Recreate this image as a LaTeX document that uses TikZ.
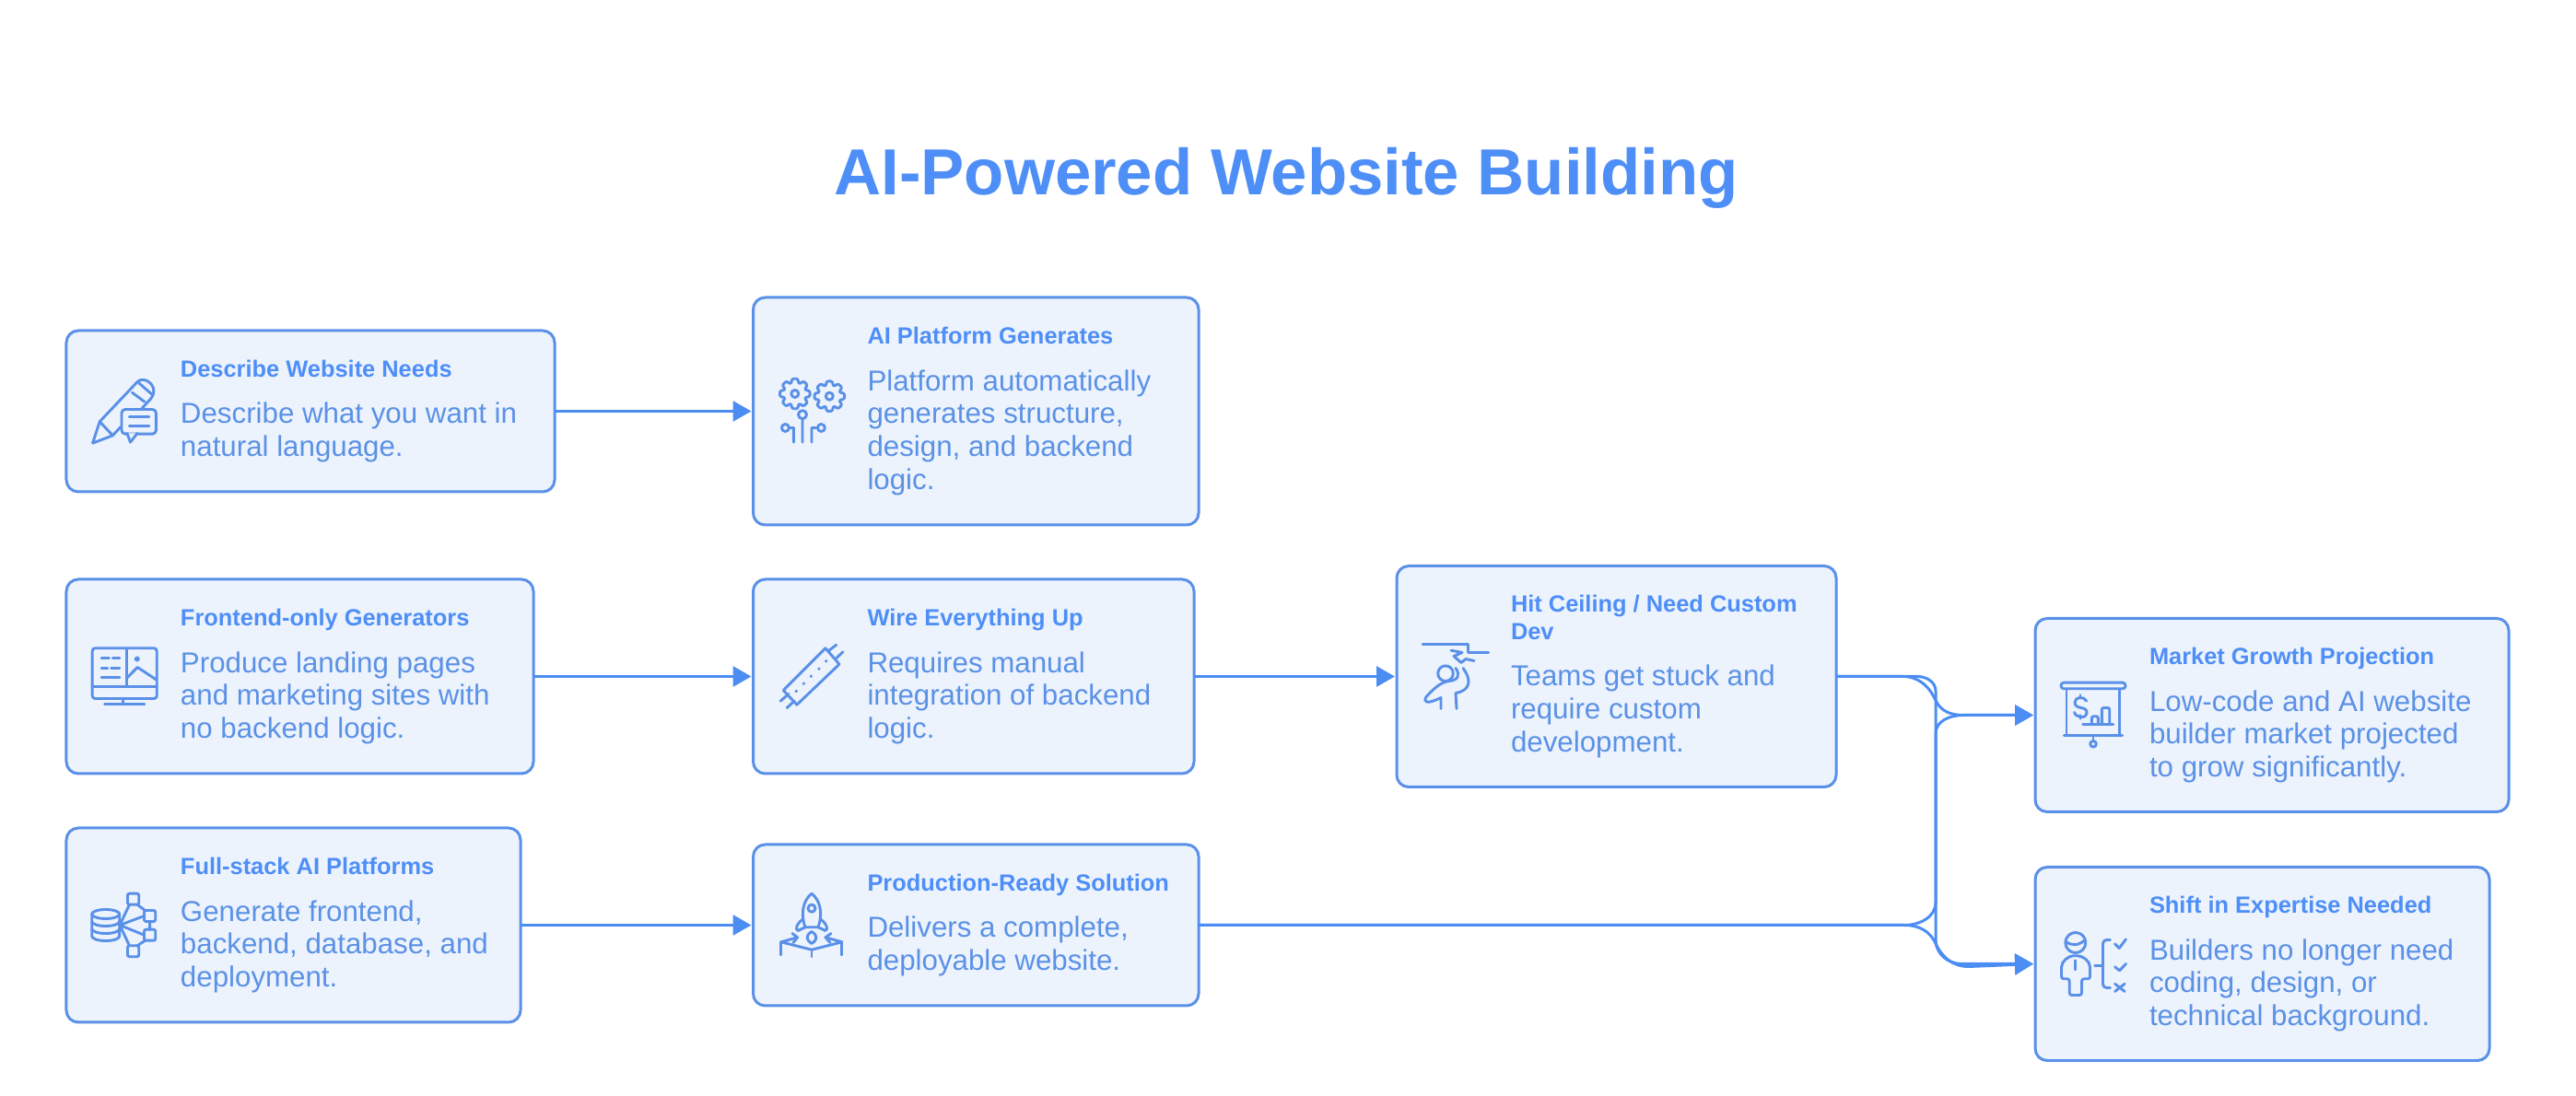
\documentclass[tikz,border=0pt]{standalone}
\usepackage{fontspec}
\setmainfont{Liberation Sans}
\usetikzlibrary{arrows.meta,positioning,calc}

\definecolor{headblue}{HTML}{4E8EF7}
\definecolor{boxline}{HTML}{5A90E8}
\definecolor{boxfill}{HTML}{ECF3FD}
\definecolor{bodyblue}{HTML}{5B91E6}
\definecolor{linkblue}{HTML}{4C8DF4}

\newcommand{\cardtext}[2]{\leftskip=1.24cm
  {\fontsize{7.23}{8.5}\bfseries\color{headblue}\selectfont #1\par}\vskip 0.15cm
  {\fontsize{8.9}{10.2}\color{bodyblue}\selectfont #2\par}\vskip 0.03cm}

\tikzset{
  icon/.style={draw=boxline, line width=0.029cm, line cap=round, line join=round},
  gearicon/.pic={
    \draw[icon, rounded corners=0.012cm] (-10:0.165) \foreach \a in {0,45,...,315} {-- (\a-10:0.165) -- (\a+10:0.165) -- (\a+22.5:0.115)} -- cycle;
    \draw[icon] (0,0) circle (0.04);
  },
  pencilicon/.pic={
    \draw[icon] (-0.126,-0.263) -- (-0.344,-0.347) -- (-0.268,-0.113) -- (0.142,0.32) .. controls (0.22,0.40) and (0.42,0.25) .. (0.256,0.103) -- (0.19,0.03);
    \draw[icon] (-0.268,-0.113) -- (-0.126,-0.263) -- (-0.04,-0.17);
    \draw[icon] (0.084,0.203) -- (0.218,0.103) (0.161,0.303) -- (0.295,0.187);
    \draw[icon, rounded corners=0.04cm] (-0.03,0.02) rectangle (0.344,-0.247);
    \draw[icon, fill=boxfill] (0.03,-0.24) -- (0.065,-0.337) -- (0.14,-0.24);
    \draw[icon] (0.054,-0.057) -- (0.268,-0.057) (0.054,-0.157) -- (0.268,-0.157);
  },
  circuiticon/.pic={
    \pic at (-0.182,0.19) {gearicon};
    \pic at (0.193,0.163) {gearicon};
    \draw[icon] (-0.1,-0.037) circle (0.045) (-0.1,-0.082) -- (-0.1,-0.337);
    \draw[icon] (-0.286,-0.18) circle (0.04) (-0.246,-0.18) -- (-0.196,-0.18) -- (-0.196,-0.337);
    \draw[icon] (0.104,-0.18) circle (0.04) (0.064,-0.18) -- (0,-0.18) -- (0,-0.337);
  },
  monitoricon/.pic={
    \draw[icon, rounded corners=0.03cm] (-0.348,0.307) rectangle (0.352,-0.24);
    \draw[icon] (-0.348,-0.11) -- (0.352,-0.11) (0.027,0.307) -- (0.027,-0.11);
    \draw[icon] (-0.011,-0.24) -- (-0.011,-0.3) (-0.214,-0.3) -- (0.218,-0.3);
    \draw[icon] (-0.249,0.197) -- (-0.165,0.197) (-0.126,0.197) -- (-0.05,0.197);
    \draw[icon] (-0.249,0.09) -- (-0.184,0.09) (-0.145,0.09) -- (-0.05,0.09);
    \draw[icon] (-0.249,-0.01) -- (-0.05,-0.01);
    \draw[icon, fill=boxline] (0.138,0.19) circle (0.018);
    \draw[icon] (0.027,-0.017) -- (0.142,0.1) -- (0.344,-0.033);
  },
  stripicon/.pic={
    \draw[icon] (0.15,0.307) -- (0.3,0.133) -- (-0.161,-0.307) -- (-0.307,-0.15) -- cycle;
    \draw[icon] (0.175,0.273) -- (0.268,0.343) (0.268,0.2) -- (0.339,0.267);
    \draw[icon] (-0.339,-0.267) -- (-0.25,-0.19) (-0.268,-0.34) -- (-0.189,-0.267);
    \foreach \p in {(-0.168,-0.16),(-0.086,-0.077),(-0.007,0.003),(0.079,0.083),(0.157,0.167)}
      \fill[boxline] \p circle (0.018);
  },
  ceilingicon/.pic={
    \draw[icon] (-0.36,0.35) -- (0.133,0.35) -- (0.133,0.26) -- (0.357,0.26);
    \draw[icon] (-0.05,0.283) -- (0.07,0.26) -- (-0.02,0.22) -- (0.06,0.15) -- (0.11,0.19) -- (0.2,0.17);
    \draw[icon] (-0.11,0.033) circle (0.083);
    \draw[icon] (0.0,0.09) .. controls (0.05,0.02) and (0.03,-0.04) .. (-0.07,-0.05) .. controls (-0.15,-0.06) and (-0.22,-0.11) .. (-0.32,-0.22) .. controls (-0.36,-0.29) and (-0.3,-0.3) .. (-0.16,-0.23) -- (-0.16,-0.35);
    \draw[icon] (0.08,0.09) .. controls (0.17,-0.03) and (0.17,-0.15) .. (0.0,-0.18) -- (0.01,-0.35);
  },
  boardicon/.pic={
    \draw[icon, rounded corners=0.03cm] (-0.35,0.353) rectangle (0.35,0.287);
    \draw[icon] (-0.29,0.287) -- (-0.29,-0.22) (0.287,0.287) -- (0.287,-0.22);
    \draw[icon] (-0.317,-0.22) -- (0.317,-0.22) (0,-0.22) -- (0,-0.28);
    \draw[icon] (0,-0.313) circle (0.033);
    \draw[icon] (-0.073,0.153) .. controls (-0.1,0.21) and (-0.2,0.2) .. (-0.2,0.14) .. controls (-0.2,0.05) and (-0.06,0.11) .. (-0.07,0.02) .. controls (-0.07,-0.04) and (-0.19,-0.03) .. (-0.205,0.03);
    \draw[icon] (-0.14,0.22) -- (-0.14,0.185) (-0.14,0) -- (-0.14,-0.04);
    \draw[icon] (-0.113,-0.103) -- (0.217,-0.103);
    \draw[icon, rounded corners=0.015cm] (-0.017,-0.103) -- (-0.017,-0.013) -- (0.053,-0.013) -- (0.053,-0.103);
    \draw[icon, rounded corners=0.02cm] (0.093,-0.103) -- (0.093,0.08) -- (0.177,0.08) -- (0.177,-0.103);
  },
  expertiseicon/.pic={
    \draw[icon] (-0.197,0.23) circle (0.11);
    \draw[icon] (-0.305,0.24) .. controls (-0.22,0.19) and (-0.17,0.2) .. (-0.09,0.26);
    \draw[icon, rounded corners=0.025cm] (-0.263,-0.34) -- (-0.263,-0.163) -- (-0.35,-0.163) -- (-0.35,-0.06) .. controls (-0.35,0.03) and (-0.27,0.087) .. (-0.197,0.087) .. controls (-0.12,0.087) and (-0.04,0.03) .. (-0.04,-0.06) -- (-0.04,-0.163) -- (-0.13,-0.163) -- (-0.13,-0.34) -- cycle;
    \draw[icon] (-0.197,0.037) -- (-0.197,-0.063);
    \draw[icon] (0.012,-0.017) -- (0.1,-0.017);
    \draw[icon, rounded corners=0.04cm] (0.18,0.26) -- (0.1,0.26) -- (0.1,-0.26) -- (0.18,-0.26);
    \draw[icon] (0.23,0.217) -- (0.277,0.17) -- (0.35,0.267);
    \draw[icon] (0.23,-0.033) -- (0.28,-0.073) -- (0.35,0);
    \draw[icon] (0.23,-0.217) -- (0.337,-0.3) (0.23,-0.3) -- (0.337,-0.217);
  },
  stackicon/.pic={
    \draw[icon] (-0.203,0.12) ellipse (0.15 and 0.05);
    \draw[icon] (-0.353,0.12) -- (-0.353,-0.12) arc (180:360:0.15 and 0.05) -- (-0.053,0.12);
    \draw[icon] (-0.353,0.04) arc (180:360:0.15 and 0.05) (-0.353,-0.04) arc (180:360:0.15 and 0.05);
    \draw[icon, rounded corners=0.02cm] (0.035,0.343) rectangle (0.157,0.223);
    \draw[icon, rounded corners=0.02cm] (0.215,0.16) rectangle (0.337,0.04);
    \draw[icon, rounded corners=0.02cm] (0.215,-0.047) rectangle (0.337,-0.167);
    \draw[icon, rounded corners=0.02cm] (0.035,-0.223) rectangle (0.157,-0.343);
    \draw[icon] (-0.05,0) -- (0.215,0.1) (-0.05,0) -- (0.215,-0.107);
    \draw[icon] (-0.05,0) -- (0.055,0.223) (-0.05,0) -- (0.055,-0.223);
    \draw[icon] (0.276,0.04) -- (0.276,-0.047) (0.14,0.223) -- (0.225,0.16) (0.14,-0.223) -- (0.225,-0.167);
  },
  rocketicon/.pic={
    \draw[icon] (-0.07,-0.023) .. controls (-0.13,0.15) and (-0.08,0.28) .. (0,0.343) .. controls (0.08,0.28) and (0.13,0.15) .. (0.07,-0.023) -- cycle;
    \draw[icon] (0,0.183) circle (0.04);
    \draw[icon] (-0.09,0.07) .. controls (-0.15,0.03) and (-0.19,-0.04) .. (-0.15,-0.06) -- (-0.07,-0.023);
    \draw[icon] (0.09,0.07) .. controls (0.15,0.03) and (0.19,-0.04) .. (0.15,-0.06) -- (0.07,-0.023);
    \draw[icon] (0,-0.07) .. controls (-0.08,-0.12) and (-0.05,-0.17) .. (0,-0.2) .. controls (0.05,-0.17) and (0.08,-0.12) .. (0,-0.07);
    \draw[icon] (-0.154,-0.133) -- (-0.332,-0.183) -- (0,-0.267) -- (0.329,-0.183) -- (0.15,-0.133);
    \draw[icon] (-0.332,-0.183) -- (-0.332,-0.323) (0.329,-0.183) -- (0.329,-0.323) (0,-0.267) -- (0,-0.343);
    \draw[icon] (-0.21,-0.09) -- (-0.154,-0.133) -- (-0.2,-0.19) (0.21,-0.09) -- (0.15,-0.133) -- (0.2,-0.19);
  }
}

\begin{document}
\begin{tikzpicture}[
    card/.style 2 args={rectangle, draw=boxline, fill=boxfill, line width=0.03cm, rounded corners=0.13cm, inner xsep=0pt, inner ysep=0pt, outer sep=0pt, align=flush left, minimum width=#1cm, minimum height=#2cm, text width=#1cm},
    arrow/.style={-{Triangle[length=0.2cm,width=0.22cm]}, draw=linkblue, line width=0.03cm, shorten >=0.02cm}
]
\useasboundingbox (0,0) rectangle (27.96,-11.90);

% Heading
\node[font=\fontsize{20.13}{24}\bfseries\selectfont, text=headblue] (heading) at (13.96,-1.93) {AI-Powered Website Building};

% Top row
\node[card={5.30}{1.75}] (describe) at (3.37,-4.465) {\cardtext{Describe Website Needs}{Describe what you want in\\natural language.}};
\node[card={4.835}{2.47}, right=2.155cm of describe] (platform) {\cardtext{AI Platform Generates}{Platform automatically\\generates structure,\\design, and backend\\logic.}};

% Middle row
\node[card={5.07}{2.11}, below right=0.95cm and 0cm of describe.south west] (frontend) {\cardtext{Frontend-only Generators}{Produce landing pages\\and marketing sites with\\no backend logic.}};
\node[card={4.785}{2.11}, right=2.385cm of frontend] (wire) {\cardtext{Wire Everything Up}{Requires manual\\integration of backend\\logic.}};
\node[card={4.77}{2.40}, right=2.20cm of wire] (ceiling) {\cardtext{Hit Ceiling / Need Custom\\Dev}{Teams get stuck and\\require custom\\development.}};

% Bottom row
\node[card={4.93}{2.11}, below right=0.59cm and 0cm of frontend.south west] (fullstack) {\cardtext{Full-stack AI Platforms}{Generate frontend,\\backend, database, and\\deployment.}};
\node[card={4.835}{1.75}, right=2.525cm of fullstack] (production) {\cardtext{Production-Ready Solution}{Delivers a complete,\\deployable website.}};

% Right column
\node[card={5.14}{2.10}, right=2.16cm of ceiling, yshift=-0.42cm] (market) {\cardtext{Market Growth Projection}{Low-code and AI website\\builder market projected\\to grow significantly.}};
\node[card={4.93}{2.10}, below right=0.60cm and 0cm of market.south west] (expertise) {\cardtext{Shift in Expertise Needed}{Builders no longer need\\coding, design, or\\technical background.}};

% Icons
\pic at ([xshift=0.63cm]describe.west) {pencilicon};
\pic at ([xshift=0.635cm]platform.west) {circuiticon};
\pic at ([xshift=0.63cm]frontend.west) {monitoricon};
\pic at ([xshift=0.635cm]wire.west) {stripicon};
\pic at ([xshift=0.64cm]ceiling.west) {ceilingicon};
\pic at ([xshift=0.63cm]market.west) {boardicon};
\pic at ([xshift=0.635cm]expertise.west) {expertiseicon};
\pic at ([xshift=0.63cm]fullstack.west) {stackicon};
\pic at ([xshift=0.635cm]production.west) {rocketicon};

% Straight arrows
\draw[arrow] (describe) -- (platform);
\draw[arrow] (frontend) -- (wire);
\draw[arrow] (wire) -- (ceiling);
\draw[arrow] (fullstack) -- (production);

% Shared bus on the right
\coordinate (bushigh) at ([xshift=1.08cm,yshift=-0.26cm]ceiling.east);
\coordinate (buslow) at ([yshift=-0.20cm]bushigh |- production.east);
\coordinate (busup) at ([yshift=0.25cm]bushigh |- production.east);
\coordinate (joinhigh) at ([xshift=-0.36cm]bushigh |- ceiling.east);
\coordinate (joinlow) at ([xshift=-0.34cm]bushigh |- production.east);
\draw[arrow] (ceiling.east) -- (joinhigh) to[out=0,in=115] (bushigh) to[out=-65,in=180] ++(0.30,-0.16) -- (market.west);
\draw[arrow] (ceiling.east) -- ([xshift=0.16cm]joinhigh) to[out=0,in=90] ([yshift=0.10cm]bushigh) -- ([yshift=0.04cm]buslow) to[out=-90,in=180] ++(0.28,-0.26) -- (expertise.west);
\draw[arrow] (production.east) -- (joinlow) to[out=0,in=-90] (busup) -- ([yshift=-0.36cm]bushigh) to[out=90,in=180] ++(0.30,0.20) -- (market.west);
\draw[arrow] (production.east) -- (joinlow) to[out=0,in=115] (buslow) to[out=-65,in=180] ++(0.36,-0.25) -- (expertise.west);
\end{tikzpicture}
\end{document}
